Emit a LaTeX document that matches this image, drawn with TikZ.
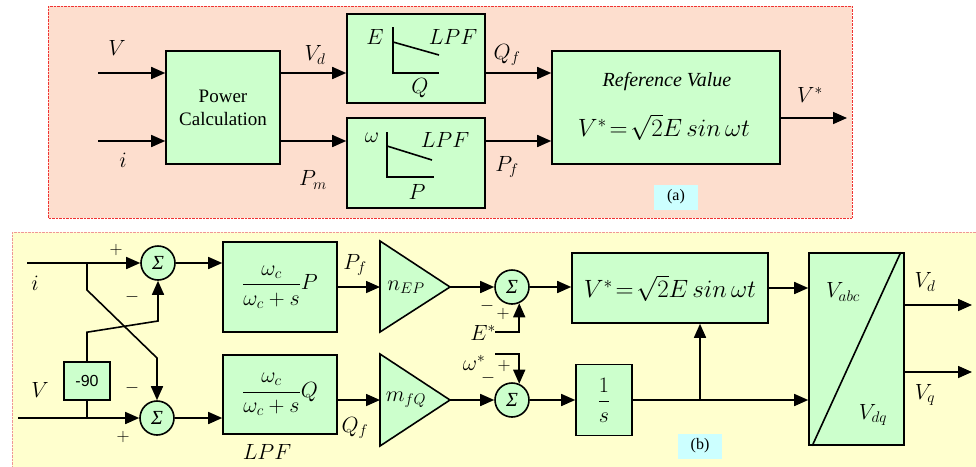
\RequirePackage{fix-cm}
\documentclass[tikz,border=0pt]{standalone}
\usepackage{fontspec}
\setmainfont{Liberation Serif}
\setsansfont{Liberation Sans}
\usetikzlibrary{arrows.meta,positioning,calc}
\definecolor{peach}{RGB}{253,222,206}
\definecolor{cream}{RGB}{255,255,206}
\definecolor{mint}{RGB}{204,255,204}
\definecolor{ice}{RGB}{204,255,255}
\definecolor{dotred}{RGB}{240,50,50}
\definecolor{dotpink}{RGB}{240,150,150}
\newcommand{\fsz}[1]{\fontsize{#1}{#1}\selectfont}
\newcommand{\vref}{$V^{*}\!=\!\sqrt{2}E\,sin\,\omega t$}

\begin{document}
\begin{tikzpicture}[x=1pt,y=-1pt,
    blk/.style={draw,fill=mint,line width=1.6pt,inner sep=0pt},
    sumc/.style={draw,fill=mint,circle,line width=1.6pt,minimum size=34pt,inner sep=0pt,font=\itshape\fsz{20}},
    sig/.style={line width=1.6pt,-{Triangle[length=14pt,width=12pt]}},
    wire/.style={line width=1.6pt},
    lbl/.style={font=\fsz{22},inner sep=0pt},
    sgn/.style={font=\fsz{18},inner sep=0pt},
    tag/.style={fill=ice,minimum width=44pt,minimum height=25pt,font=\fsz{16},inner sep=0pt}]
  \useasboundingbox (0,0) rectangle (976,466);
  % panels
  \draw[dotred,densely dotted,fill=peach] (48,6) rectangle (852,218);
  \draw[dotpink,densely dotted,fill=cream] (12,232) rectangle (990,480);

  % (a)
  \node[blk,minimum width=114pt,minimum height=113pt,align=center,font=\fontsize{19}{23}\selectfont] (pc) at (223,107.5) {Power\\Calculation};
  \node[blk,minimum width=138pt,minimum height=89pt] (eq) at (416,58.5) {};
  \node[blk,minimum width=138pt,minimum height=90pt] (wp) at (416,163) {};
  \node[blk,minimum width=228pt,minimum height=113pt] (ref) at (666,107.5) {};
  \node[font=\itshape\fsz{20},inner sep=0pt] (reftxt) at (667,82) {Reference Value};
  \node[font=\fsz{25},inner sep=0pt] (refeq) at (664,127) {\vref};

  \draw[wire] (393,27) -- (393,73) -- (439,73);
  \draw[wire] (393,42) -- (439,55);
  \node[lbl] (eE) at (375,37) {$E$};
  \node[lbl] (eL) at (453,37) {$LPF$};
  \node[lbl] (eQ) at (420,88) {$Q$};
  \draw[wire] (387,132) -- (387,177) -- (434,177);
  \draw[wire] (387,146) -- (432,160);
  \node[lbl] (pW) at (372,138) {$\omega$};
  \node[lbl] (pL) at (445,140) {$LPF$};
  \node[lbl] (pP) at (417,192) {$P$};

  \coordinate (vin) at (98,73);
  \coordinate (iin) at (98,141);
  \coordinate (vout) at (847,118);
  \draw[sig] (vin) -- (vin -| pc.west);
  \draw[sig] (iin) -- (iin -| pc.west);
  \draw[sig] (pc.east |- vin) -- (eq.west |- vin);
  \draw[sig] (pc.east |- iin) -- (wp.west |- iin);
  \draw[sig] (eq.east |- vin) -- (ref.west |- vin);
  \draw[sig] (wp.east |- iin) -- (ref.west |- iin);
  \draw[sig] (ref.east |- vout) -- (vout);
  \node[lbl] (lV) at (117,48) {$V$};
  \node[lbl] (li) at (123,160) {$i$};
  \node[lbl] (lVd) at (315,55) {$V_d$};
  \node[lbl] (lPm) at (313,180) {$P_m$};
  \node[lbl] (lQf) at (507,55) {$Q_f$};
  \node[lbl] (lPf) at (507,167) {$P_f$};
  \node[lbl] (lVs) at (810,95) {$V^{*}$};
  \node[tag] (taga) at (676,197) {(a)};

  % (b)
  \node[sumc] (s1) at (158,263) {Σ};
  \node[sumc] (s2) at (157,418) {Σ};
  \node[blk,minimum width=46pt,minimum height=38pt,font=\sffamily\fsz{16}] (m90) at (87,381) {-90};
  \coordinate (iin2) at (27,263);
  \coordinate (vin2) at (18,418);
  \coordinate (ib) at (87,263);
  \coordinate (vb) at (87,418);
  \draw[sig] (iin2) -- (s1);
  \draw[sig] (vin2) -- (s2);
  \draw[sig] (ib) -- ++(0,27) -- (s2.north |- 0,358) -- (s2.north);
  \draw[wire] (vb) -- (m90);
  \draw[sig] (m90.north) -- ++(0,-29) -- (s1.south |- 0,321) -- (s1.south);
  \node[sgn] (p1) at (116,250) {$+$};
  \node[sgn] (n1) at (132,297) {$-$};
  \node[sgn] (n2) at (132,388) {$-$};
  \node[sgn] (p2) at (123,437) {$+$};
  \node[lbl] (li2) at (35,283) {$i$};
  \node[lbl] (lV2) at (40,390) {$V$};

  \node[blk,minimum width=114pt,minimum height=90pt,font=\fsz{22}] (fp) at (280,287) {$\displaystyle\frac{\omega_c}{\omega_c+s}P$};
  \node[blk,minimum width=114pt,minimum height=79pt,font=\fsz{22}] (fq) at (280,394.5) {$\displaystyle\frac{\omega_c}{\omega_c+s}Q$};
  \node[lbl] (lLPF) at (267,452) {$LPF$};
  \draw[sig] (s1) -- (s1 -| fp.west);
  \draw[sig] (s2) -- (s2 -| fq.west);

  \coordinate (nepin) at (380,287);
  \coordinate (nep) at (450,287);
  \coordinate (mfqin) at (380,400);
  \coordinate (mfq) at (450,400);
  \draw[blk] (380,241) -- (380,332) -- (nep) -- cycle;
  \draw[blk] (380,354) -- (380,446) -- (mfq) -- cycle;
  \node[lbl] (lnep) at (406,287) {$n_{EP}$};
  \node[lbl] (lmfq) at (406,400) {$m_{fQ}$};
  \draw[sig] (fp) -- (nepin);
  \draw[sig] (fq.east |- mfqin) -- (mfqin);
  \node[lbl] (lPf2) at (355,265) {$P_f$};
  \node[lbl] (lQf2) at (355,428) {$Q_f$};

  \node[sumc] (s3) at (512,287) {Σ};
  \node[sumc] (s4) at (512,400) {Σ};
  \draw[sig] (nep) -- (s3);
  \draw[sig] (mfq) -- (s4);
  \coordinate (estar) at (495,332);
  \coordinate (wstar) at (495,354);
  \draw[sig] (estar) -| (s3.-66);
  \draw[sig] (wstar) -| (s4.66);
  \node[lbl,anchor=base] (lE) at (483,340) {$E^{*}$};
  \node[lbl,anchor=base] (lW) at (474,370) {$\omega^{*}$};
  \node[sgn] (n3) at (487,306) {$-$};
  \node[sgn] (p3) at (503,314) {$+$};
  \node[sgn] (n4) at (488,378) {$-$};
  \node[sgn] (p4) at (504,366) {$+$};

  \node[blk,minimum width=196pt,minimum height=70pt,font=\fsz{25}] (vs) at (670,288) {\vref};
  \node[blk,minimum width=56pt,minimum height=71pt,font=\fsz{22}] (inv) at (604,400) {$\displaystyle\frac{1}{s}$};
  \node[blk,minimum width=95pt,minimum height=192pt] (cv) at (856.5,349) {};
  \draw[wire] ($(cv.south west)+(4,0)$) -- ($(cv.north east)+(-4,0)$);
  \draw[sig] (s3) -- (s3 -| vs.west);
  \draw[sig] (s4) -- (inv);
  \draw[sig] (inv) -- (inv -| cv.west);
  \coordinate (br) at (700,400);
  \draw[sig] (br) -- (br |- vs.south);
  \draw[sig] (vs) -- (vs -| cv.west);
  \coordinate (vdout) at (972,305);
  \coordinate (vqout) at (972,372);
  \draw[sig] (cv.east |- vdout) -- (vdout);
  \draw[sig] (cv.east |- vqout) -- (vqout);
  \node[lbl] (lVabc) at (843,292) {$V_{abc}$};
  \node[lbl] (lVdq) at (873,415) {$V_{dq}$};
  \node[lbl] (lVd2) at (925,282) {$V_d$};
  \node[lbl] (lVq) at (925,395) {$V_q$};
  \node[tag] (tagb) at (700,446) {(b)};
\end{tikzpicture}
\end{document}
